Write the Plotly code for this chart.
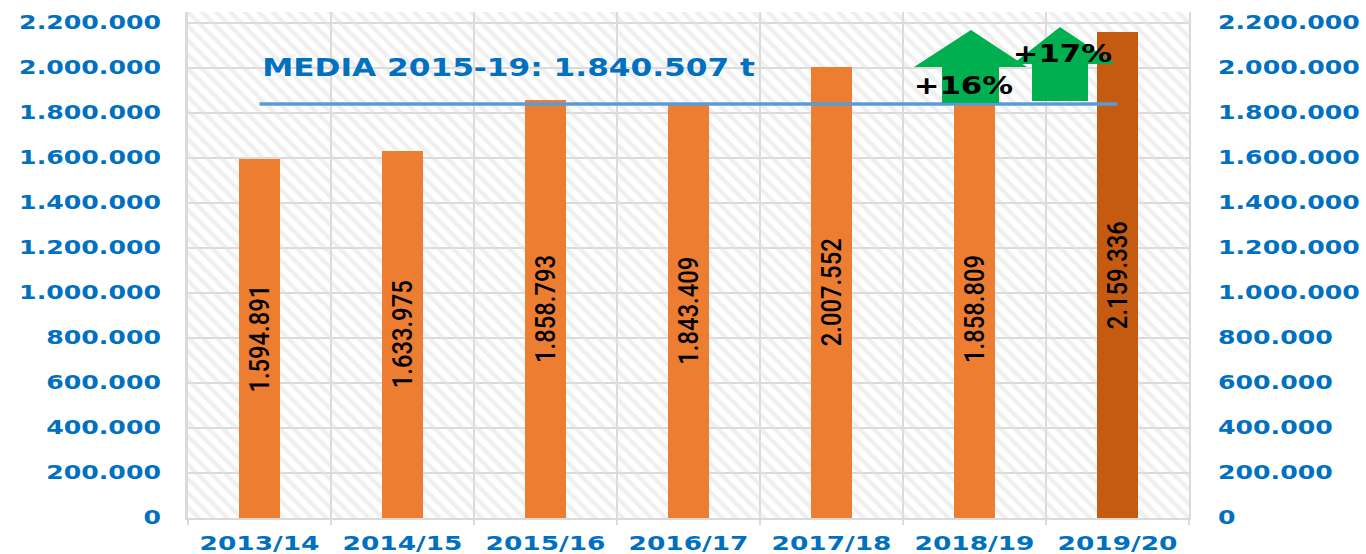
import plotly.graph_objects as go

categories = ["2013/14", "2014/15", "2015/16", "2016/17", "2017/18", "2018/19", "2019/20"]
production = [1594891, 1633975, 1858793, 1843409, 2007552, 1858809, 2159336]
average_value = 1840507
average_label = "MEDIA 2015-19: 1.840.507 t"
tick_values = [0, 200000, 400000, 600000, 800000, 1000000, 1200000, 1400000, 1600000, 1800000, 2000000, 2200000]
axis_max = 2250000

W, H = 1366, 554
L, R, T, B = 188, 1189, 12, 518.3
BLUE = "#0070C0"
GRID = "#DADADA"
GREEN = "#00B050"
FONT = "DejaVu Sans"

def px(x):
    return (x - L) / (R - L)

def py(y):
    return (B - y) / (B - T)

def arrow_path(tip, lw, rw, wing_y, sl, sr, bottom):
    pts = [(tip[0], tip[1]), (rw, wing_y), (sr, wing_y), (sr, bottom), (sl, bottom), (sl, wing_y), (lw, wing_y)]
    return "M " + " L ".join(f"{px(a):.5f},{py(b):.5f}" for a, b in pts) + " Z"

fig = go.Figure()

# hatched plot background
fig.add_bar(
    x=categories, y=[axis_max] * len(categories), width=1, hoverinfo="skip",
    marker=dict(color="rgba(0,0,0,0)", line_width=0,
                pattern=dict(shape="\\", size=10, solidity=0.42, fgcolor="#E0E0E0", bgcolor="rgba(0,0,0,0)")),
    showlegend=False,
)
fig.add_bar(
    x=categories, y=production, width=0.29, showlegend=False,
    marker=dict(color=["#ED7D31"] * 6 + ["#C55A11"], line_width=0),
    texttemplate="%{y:,d}", textposition="inside", insidetextanchor="middle",
    textangle=-90, constraintext="none",
    textfont=dict(family="Roboto", size=28, color="black", weight=500),
)
fig.add_scatter(
    x=categories, y=[average_value] * len(categories), mode="lines", yaxis="y2",
    line=dict(color="#5B9BD5", width=3.5), showlegend=False,
)

axis_font = dict(family=FONT, size=20, color=BLUE, weight="bold")
fig.update_layout(
    width=W, height=H, margin=dict(l=L, r=W - R, t=T, b=H - B, pad=0),
    paper_bgcolor="white", plot_bgcolor="white", barmode="overlay", bargap=0,
    separators=",.",
    xaxis=dict(type="category", range=[-0.5, 6.5], tickson="boundaries", showgrid=True, automargin=False,
               gridcolor=GRID, gridwidth=2.5, ticks="outside", ticklen=5, tickwidth=2, tickcolor=GRID,
               showline=True, linecolor=GRID, linewidth=2, tickfont=axis_font, ticklabelstandoff=6),
    yaxis=dict(range=[0, axis_max], tickvals=tick_values, tickformat=",d", showgrid=True, automargin=False,
               gridcolor=GRID, gridwidth=2, zeroline=False, showline=True, linecolor=GRID, linewidth=3,
               tickfont=axis_font, ticks="", ticklabelstandoff=20),
    yaxis2=dict(range=[0, axis_max], overlaying="y", side="right", tickvals=tick_values, tickformat=",d",
                showgrid=False, zeroline=False, showline=True, linecolor=GRID, linewidth=2, automargin=False,
                tickfont=axis_font, ticks="", ticklabelstandoff=23),
    shapes=[
        dict(type="path", xref="paper", yref="paper", layer="above", line_width=0, fillcolor=GREEN,
             path=arrow_path((971, 30), 914, 1027, 67, 942, 999, 103)),
        dict(type="path", xref="paper", yref="paper", layer="above", line_width=0, fillcolor=GREEN,
             path=arrow_path((1060, 27), 1013, 1115, 64, 1032, 1088, 101)),
    ],
    annotations=[
        dict(text=average_label, xref="paper", yref="paper", x=px(508), y=py(68), showarrow=False,
             xanchor="center", yanchor="middle", font=dict(family=FONT, size=24, color=BLUE, weight="bold")),
        dict(text="+16%", xref="paper", yref="paper", x=px(963), y=py(86), showarrow=False,
             xanchor="center", yanchor="middle", font=dict(family=FONT, size=25, color="black", weight="bold")),
        dict(text="+17%", xref="paper", yref="paper", x=px(1062), y=py(54), showarrow=False,
             xanchor="center", yanchor="middle", font=dict(family=FONT, size=25, color="black", weight="bold")),
    ],
)

stretch_js = """
document.body.style.margin = '0';
(function () {
  function fit(sel, factor, dy) {
    document.querySelectorAll(sel).forEach(function (t) {
      if (t.hasAttribute('textLength')) return;
      var w = t.getComputedTextLength();
      if (!w) return;
      t.setAttribute('textLength', (w * factor).toFixed(1));
      t.setAttribute('lengthAdjust', 'spacingAndGlyphs');
      if (dy) t.setAttribute('dy', dy);
    });
  }
  function stretch() {
    fit('.xtick text', 1.32, 0);
    fit('.ytick text, .y2tick text', 1.26, -1.5);
    document.querySelectorAll('.annotation-text').forEach(function (t) {
      if (t.hasAttribute('textLength')) return;
      var w = t.getComputedTextLength();
      if (!w) return;
      t.setAttribute('textLength', (w * (t.textContent.charAt(0) === '+' ? 1.23 : 1.3)).toFixed(1));
      t.setAttribute('lengthAdjust', 'spacingAndGlyphs');
    });
    fit('.bartext', 0.85, 0);
  }
  stretch();
  setTimeout(stretch, 0);
  setTimeout(stretch, 150);
})();
"""
fig.write_html("out.html", config={"staticPlot": True}, post_script=stretch_js)
